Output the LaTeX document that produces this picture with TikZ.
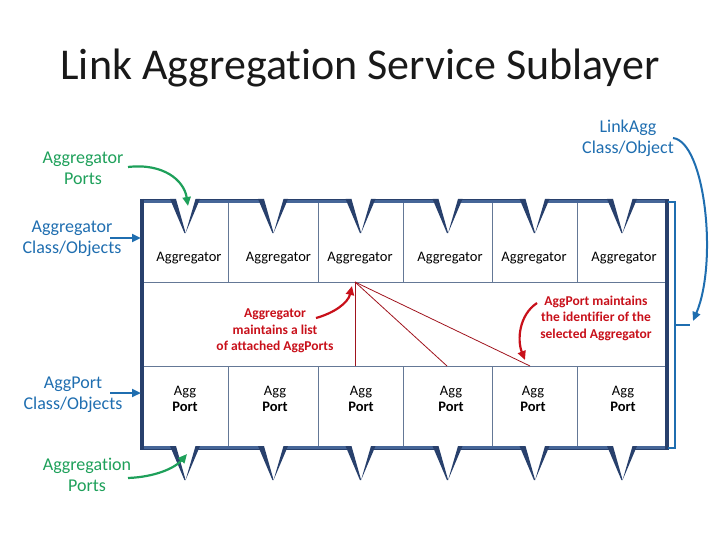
\documentclass[tikz,border=0pt]{standalone}
\usepackage{fontspec}
\setmainfont{Carlito}[Ligatures=NoCommon]
\usetikzlibrary{arrows.meta}
\definecolor{frameblue}{RGB}{40,64,108}
\definecolor{framelight}{RGB}{70,102,152}
\definecolor{gridc}{RGB}{100,120,150}
\definecolor{lblue}{RGB}{31,110,176}
\definecolor{lgreen}{RGB}{30,160,90}
\definecolor{lred}{RGB}{200,16,26}
\definecolor{dred}{RGB}{160,20,30}
\tikzset{
  cell/.style={font=\fontsize{14.5}{16}\selectfont, text=black, align=center, inner sep=0pt},
  redtxt/.style={font=\fontsize{13.5}{16.5}\selectfont\bfseries, text=lred, align=center, inner sep=0pt},
  bluelbl/.style={font=\fontsize{18}{21}\selectfont, text=lblue, align=center, inner sep=0pt},
  greenlbl/.style={font=\fontsize{18}{21}\selectfont, text=lgreen, align=center, inner sep=0pt},
  barrow/.style={draw=lblue, line width=2.4pt, -{Triangle[length=9pt,width=8pt]}},
  garrow/.style={draw=lgreen, line width=2.2pt, -{Triangle[length=9pt,width=8pt]}},
  rarrow/.style={draw=lred, line width=2.2pt, -{Triangle[length=9pt,width=8pt]}},
  gridline/.style={draw=gridc, line width=0.9pt},
  redline/.style={draw=dred, line width=0.8pt},
  band/.style={draw=framelight, line width=4pt},
  sideline/.style={draw=frameblue, line width=3.4pt},
  wedge/.style={fill=frameblue, draw=none},
}
\begin{document}
\begin{tikzpicture}[x=1pt,y=-1pt]
\useasboundingbox (0,0) rectangle (720,540);
% title
\node[font=\fontsize{44}{52}\selectfont, text={rgb,255:red,25;green,25;blue,25}, inner sep=0pt] (title) at (360,68) {Link Aggregation Service Sublayer};

% grid lines
\draw[gridline] (142,282) -- (667,282);
\draw[gridline] (142,366) -- (667,366);
\foreach \x in {228,318,403,492,577} {
  \draw[gridline] (\x,201) -- (\x,282);
  \draw[gridline] (\x,366) -- (\x,448);
}

% red lines
\coordinate (rp) at (355,282);
\coordinate (rq1) at (355,366);
\coordinate (rq2) at (447,366);
\coordinate (rq3) at (530,366);
\draw[redline] (rp) -- (rq1);
\draw[redline] (rp) -- (rq2);
\draw[redline] (rp) -- (rq3);

% frame: bands between the notches
\foreach \a/\b in {140.3/172, 198/260, 286/347.5, 373.5/434.5, 460.5/521.5, 547.5/609, 635/668.7} {
  \draw[band] (\a,201) -- (\b,201);
  \draw[band] (\a,448) -- (\b,448);
  \draw[draw=frameblue, line width=1.2pt] (\a,199.3) -- (\b,199.3);
  \draw[draw=frameblue, line width=1.2pt] (\a,449.7) -- (\b,449.7);
}
\draw[sideline] (142,199) -- (142,450);
\draw[sideline] (667,199) -- (667,450);
% notches
\foreach \c in {185,273,360.5,447.5,534.5,622} {
  \fill[wedge] (\c-15,199) -- (\c-9,199) -- (\c+0.6,233) -- (\c-0.6,233) -- cycle;
  \fill[wedge] (\c+10.5,199) -- (\c+15,199) -- (\c+0.6,233) -- cycle;
  \fill[wedge] (\c-15,446) -- (\c-9,446) -- (\c+0.6,480) -- (\c-0.6,480) -- cycle;
  \fill[wedge] (\c+10.5,446) -- (\c+15,446) -- (\c+0.6,480) -- cycle;
}

% aggregator cells
\node[cell] (ag1) at (189,258) {Aggregator};
\node[cell] (ag2) at (278.5,258) {Aggregator};
\node[cell] (ag3) at (360,258) {Aggregator};
\node[cell] (ag4) at (450,258) {Aggregator};
\node[cell] (ag5) at (534,258) {Aggregator};
\node[cell] (ag6) at (624,258) {Aggregator};

% aggport cells
\node[cell] (ap1) at (185,399) {Agg\\\textbf{Port}};
\node[cell] (ap2) at (275,399) {Agg\\\textbf{Port}};
\node[cell] (ap3) at (361,399) {Agg\\\textbf{Port}};
\node[cell] (ap4) at (451,399) {Agg\\\textbf{Port}};
\node[cell] (ap5) at (533,399) {Agg\\\textbf{Port}};
\node[cell] (ap6) at (623,399) {Agg\\\textbf{Port}};

% red notes
\node[redtxt] (n1) at (275,331) {Aggregator\\maintains a list\\of attached AggPorts};
\node[redtxt] (n2) at (596,318) {AggPort maintains\\the identifier of the\\selected Aggregator};
\coordinate (n1s) at (316,318);
\coordinate (n1e) at (352,286);
\coordinate (n2s) at (537,303);
\coordinate (n2e) at (525,360);
\draw[rarrow] (n1s) .. controls (334,313) and (348,303) .. (n1e);
\draw[rarrow] (n2s) .. controls (519,315) and (517,340) .. (n2e);

% left labels
\node[greenlbl] (gl1) at (83,168) {Aggregator\\Ports};
\node[bluelbl] (bl1) at (72,238.5) {Aggregator\\Class/Objects};
\node[bluelbl] (bl2) at (73,394.5) {AggPort\\Class/Objects};
\node[greenlbl] (gl2) at (87,475) {Aggregation\\Ports};
\node[bluelbl] (bl3) at (628,138.5) {LinkAgg\\Class/Object};

\coordinate (g1s) at (128,167);
\coordinate (g1e) at (188,206);
\coordinate (g2s) at (128,478);
\coordinate (g2e) at (187,454);
\draw[garrow] (g1s) .. controls (163,163) and (184,180) .. (g1e);
\draw[garrow] (g2s) .. controls (155,477) and (175,468) .. (g2e);

\coordinate (b1s) at (110,238);
\coordinate (b1e) at (141,238);
\coordinate (b2s) at (110,393);
\coordinate (b2e) at (141,393);
\draw[barrow] (b1s) -- (b1e);
\draw[barrow] (b2s) -- (b2e);

% bracket
\coordinate (brt) at (668,202);
\coordinate (brb) at (668,448);
\coordinate (brm) at (675,325);
\coordinate (brx) at (690,325);
\draw[draw=lblue, line width=1.8pt] (brt) -- (675,202) -- (675,448) -- (brb);
\draw[draw=lblue, line width=1.8pt] (brm) -- (brx);
\coordinate (b3s) at (673,138);
\coordinate (b3e) at (693,321);
\draw[barrow, line width=2pt] (b3s) .. controls (705,142) and (718,262) .. (b3e);
\end{tikzpicture}
\end{document}
